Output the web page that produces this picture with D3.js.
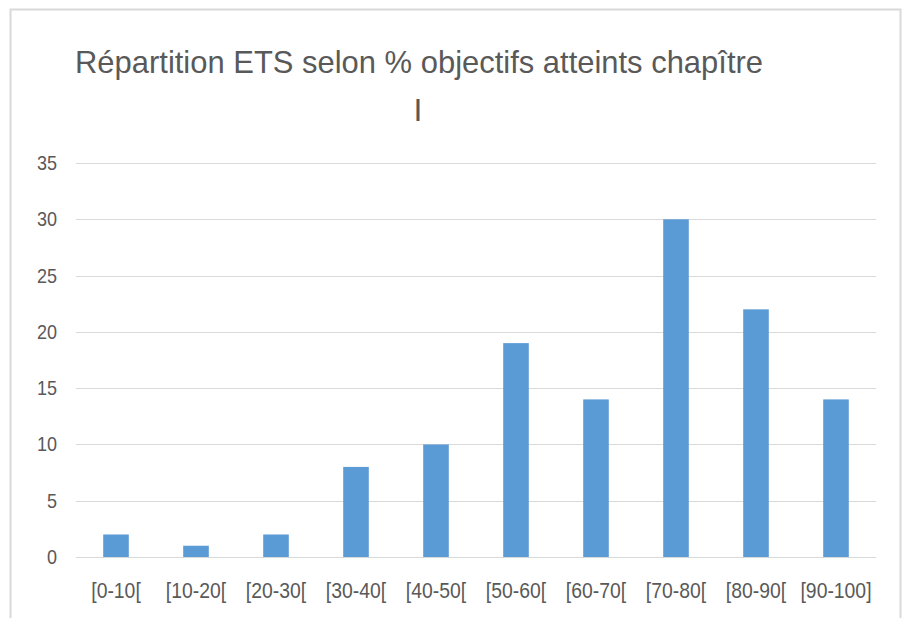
<!DOCTYPE html>
<html>
<head>
<meta charset="utf-8">
<script src="https://cdn.jsdelivr.net/npm/d3@7"></script>
<style>
  body { margin: 0; background: #fff; }
  text { font-family: "Liberation Sans Narrow", "Liberation Sans", sans-serif; fill: #595959; }
</style>
</head>
<body>
<div class="chart"></div>
<script>
var categories = ["[0-10[", "[10-20[", "[20-30[", "[30-40[", "[40-50[", "[50-60[", "[60-70[", "[70-80[", "[80-90[", "[90-100]"];
var values = [2, 1, 2, 8, 10, 19, 14, 30, 22, 14];
var yTicks = [0, 5, 10, 15, 20, 25, 30, 35];

var svg = d3.select(".chart").append("svg")
            .attr("width", 906)
            .attr("height", 618);

// chart frame
svg.append("rect")
   .attr("x", 10.5).attr("y", 9.5)
   .attr("width", 890).attr("height", 640)
   .attr("fill", "#fff")
   .attr("stroke", "#d9d9d9")
   .attr("stroke-width", 2);

var x = d3.scaleBand().domain(categories).range([76, 876]).paddingInner(0.68).paddingOuter(0.34);
var y = d3.scaleLinear().domain([0, 35]).range([557, 163]);

// gridlines
svg.selectAll("line.grid").data(yTicks).enter()
   .append("line")
   .attr("class", "grid")
   .attr("x1", 76).attr("x2", 876)
   .attr("y1", function(d){ return Math.round(y(d)) + 0.5; })
   .attr("y2", function(d){ return Math.round(y(d)) + 0.5; })
   .attr("stroke", "#d9d9d9")
   .attr("stroke-width", 1);

// y axis labels
svg.selectAll("text.ytick").data(yTicks).enter()
   .append("text")
   .attr("class", "ytick")
   .attr("transform", function(d){ return "translate(57," + y(d) + ") scale(0.9,1)"; })
   .attr("dy", "0.35em")
   .attr("text-anchor", "end")
   .attr("font-size", 20)
   .text(function(d){ return d; });

// bars
svg.selectAll("rect.bar").data(values).enter()
   .append("rect")
   .attr("class", "bar")
   .attr("x", function(d, i){ return x(categories[i]); })
   .attr("width", x.bandwidth())
   .attr("y", function(d){ return y(d); })
   .attr("height", function(d){ return y(0) - y(d); })
   .attr("fill", "#5b9bd5");

// x axis labels
svg.selectAll("text.xtick").data(categories).enter()
   .append("text")
   .attr("class", "xtick")
   .attr("transform", function(d){ return "translate(" + (x(d) + x.bandwidth() / 2) + ",590) scale(0.88,1)"; })
   .attr("dy", "0.35em")
   .attr("text-anchor", "middle")
   .attr("font-size", 22)
   .text(function(d){ return d; });

// title
svg.append("text")
   .attr("x", 75).attr("y", 73)
   .attr("font-size", 32)
   .attr("textLength", 688)
   .attr("lengthAdjust", "spacingAndGlyphs")
   .text("Répartition ETS selon % objectifs atteints chapître");
svg.append("text")
   .attr("x", 418).attr("y", 121)
   .attr("font-size", 32)
   .attr("text-anchor", "middle")
   .text("I");
</script>
</body>
</html>
